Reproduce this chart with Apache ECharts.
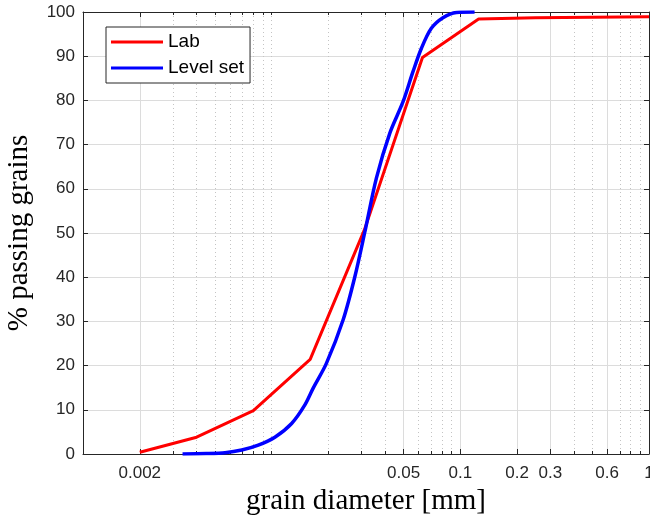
<!DOCTYPE html>
<html>
<head>
<meta charset="utf-8">
<script src="https://cdn.jsdelivr.net/npm/echarts@6.0.0/dist/echarts.min.js"></script>
<style>
  html, body { margin: 0; padding: 0; background: #fff; }
  #grainChart { width: 650px; height: 517px; }
</style>
</head>
<body>
<div id="grainChart"></div>
<script>
// grain size distribution: diameter in mm, percent passing
const labDiameter = [0.002, 0.004, 0.008, 0.016, 0.031, 0.063, 0.125, 0.25, 1];
const labPassing = [0.4, 3.8, 9.8, 21.4, 50.7, 89.7, 98.4, 98.7, 98.9];

const levelSetDiameter = [0.00337, 0.0045, 0.00566, 0.00694, 0.00849, 0.0104, 0.01276, 0.015, 0.0166,
  0.0195, 0.0239, 0.0276, 0.0312, 0.0359, 0.0423, 0.0497, 0.0561, 0.0622, 0.0702, 0.0809, 0.0953, 0.119];
const levelSetPassing = [0, 0.1, 0.3, 0.9, 2.0, 3.8, 6.9, 11.1, 14.9,
  20.5, 30.3, 40.1, 50.3, 62.4, 72.6, 79.7, 86.5, 91.8, 96.3, 98.7, 99.9, 100];

const xTickLabels = [0.002, 0.05, 0.1, 0.2, 0.3, 0.6, 1];
const xMinorTicks = [0.003, 0.004, 0.005, 0.006, 0.007, 0.008, 0.009, 0.01, 0.02, 0.03, 0.04,
  0.06, 0.07, 0.08, 0.09, 0.4, 0.5, 0.7, 0.8, 0.9];

const axisColor = "#262626";
const gridColor = "#dcdcdc";

const chart = echarts.init(document.getElementById("grainChart"));

const zip = (xs, ys) => xs.map((x, i) => [x, ys[i]]);

const logAxis = (extra) =>
  Object.assign(
    {
      type: "log",
      logBase: 10,
      min: 0.001,
      max: 1,
      gridIndex: 0,
      axisLine: { show: false },
      axisTick: { show: false },
      axisLabel: { show: false },
      splitLine: { show: false },
      minorTick: { show: false },
      minorSplitLine: { show: false },
    },
    extra
  );

const option = {
  animation: false,
  grid: { left: 83, right: 1, top: 12, bottom: 63, containLabel: false, outerBoundsMode: "none" },
  legend: {
    orient: "vertical",
    left: 106,
    top: 27,
    padding: [5, 6, 5, 5],
    borderColor: axisColor,
    borderWidth: 1,
    backgroundColor: "#fff",
    itemWidth: 52,
    itemHeight: 3,
    itemGap: 6,
    icon: "rect",
    textStyle: { fontFamily: "Liberation Sans", fontSize: 19, lineHeight: 20, color: "#000" },
    data: ["Lab", "Level set"],
  },
  xAxis: [
    logAxis({
      position: "bottom",
      name: "grain diameter [mm]",
      nameLocation: "middle",
      nameGap: 28,
      nameTextStyle: { fontFamily: "Liberation Serif", fontSize: 29, color: "#000" },
      axisLine: { show: true, lineStyle: { color: axisColor, width: 1 } },
      axisTick: { show: true, inside: true, length: 5, customValues: xTickLabels, lineStyle: { color: axisColor } },
      axisLabel: {
        show: true,
        customValues: xTickLabels,
        margin: 11,
        fontFamily: "Liberation Sans",
        fontSize: 17,
        color: axisColor,
        formatter: (v) => String(+Number(v).toPrecision(3)),
      },
      splitLine: { show: true, lineStyle: { color: gridColor, width: 1 } },
    }),
    logAxis({
      position: "bottom",
      axisTick: { show: true, inside: true, length: 3, customValues: xMinorTicks, lineStyle: { color: axisColor } },
      splitLine: { show: true, lineStyle: { color: "#c4c4c4", width: 1, type: [1, 3] } },
    }),
    logAxis({
      position: "top",
      axisLine: { show: true, lineStyle: { color: axisColor, width: 1 } },
      axisTick: { show: true, inside: true, length: 5, customValues: xTickLabels, lineStyle: { color: axisColor } },
    }),
    logAxis({
      position: "top",
      axisTick: { show: true, inside: true, length: 3, customValues: xMinorTicks, lineStyle: { color: axisColor } },
    }),
  ],
  yAxis: [
    {
      type: "value",
      min: 0,
      max: 100,
      interval: 10,
      position: "left",
      name: "% passing grains",
      nameLocation: "middle",
      nameGap: 49,
      nameTextStyle: { fontFamily: "Liberation Serif", fontSize: 29, color: "#000" },
      axisLine: { show: true, lineStyle: { color: axisColor, width: 1 } },
      axisTick: { show: true, inside: true, length: 5, lineStyle: { color: axisColor } },
      axisLabel: { margin: 8, fontFamily: "Liberation Sans", fontSize: 17, color: axisColor },
      splitLine: { show: true, lineStyle: { color: gridColor, width: 1 } },
    },
    {
      type: "value",
      min: 0,
      max: 100,
      interval: 10,
      position: "right",
      axisLine: { show: true, lineStyle: { color: axisColor, width: 1 } },
      axisTick: { show: true, inside: true, length: 5, lineStyle: { color: axisColor } },
      axisLabel: { show: false },
      splitLine: { show: false },
    },
  ],
  series: [
    {
      name: "Lab",
      type: "line",
      xAxisIndex: 0,
      yAxisIndex: 0,
      data: zip(labDiameter, labPassing),
      showSymbol: false,
      symbol: "none",
      color: "#ff0000",
      lineStyle: { color: "#ff0000", width: 3 },
    },
    {
      name: "Level set",
      type: "line",
      xAxisIndex: 0,
      yAxisIndex: 0,
      data: zip(levelSetDiameter, levelSetPassing),
      showSymbol: false,
      symbol: "none",
      smooth: 0.3,
      color: "#0000ff",
      lineStyle: { color: "#0000ff", width: 3.5, join: "round" },
    },
  ],
};

option && chart.setOption(option);
</script>
</body>
</html>
